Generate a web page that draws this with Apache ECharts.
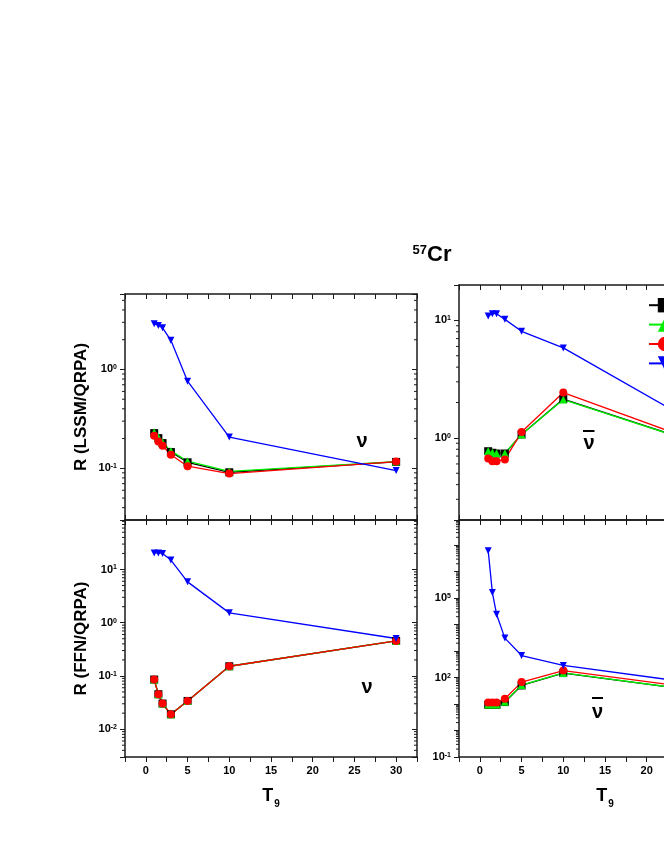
<!DOCTYPE html>
<html>
<head>
<meta charset="utf-8">
<title>57Cr rate ratios</title>
<script src="https://cdn.jsdelivr.net/npm/echarts@6.0.0/dist/echarts.min.js"></script>
<style>
  html, body { margin: 0; padding: 0; background: #fff; }
  #chart { width: 664px; height: 859px; }
</style>
</head>
<body>
<div id="chart"></div>
<script>
// temperature grid (T9)
const T9 = [1, 1.5, 2, 3, 5, 10, 30]
const seriesNames = ['\u03c1Y\u2091 = 10\u00b3', '\u03c1Y\u2091 = 10\u2077', '\u03c1Y\u2091 = 10\u2079', '\u03c1Y\u2091 = 10\u00b9\u00b9']

// R (LSSM/QRPA), neutrino
const lssmNuBlack = [0.227, 0.202, 0.180, 0.146, 0.115, 0.0912, 0.116]
const lssmNuGreen = [0.232, 0.206, 0.184, 0.150, 0.118, 0.093, 0.117]
const lssmNuRed = [0.213, 0.187, 0.169, 0.137, 0.105, 0.0885, 0.117]
const lssmNuBlue = [2.90, 2.79, 2.64, 1.97, 0.762, 0.207, 0.0948]

// R (LSSM/QRPA), antineutrino
const lssmAnuBlack = [0.77, 0.747, 0.736, 0.736, 1.07, 2.14, 0.733]
const lssmAnuGreen = [0.775, 0.75, 0.74, 0.74, 1.07, 2.12, 0.733]
const lssmAnuRed = [0.668, 0.634, 0.634, 0.655, 1.12, 2.43, 0.738]
const lssmAnuBlue = [10.9, 11.4, 11.4, 10.2, 8.07, 5.83, 0.905]

// R (FFN/QRPA), neutrino
const ffnNuBlack = [0.0855, 0.0453, 0.0303, 0.019, 0.0339, 0.152, 0.455]
const ffnNuGreen = [0.0855, 0.0453, 0.0303, 0.019, 0.0339, 0.152, 0.455]
const ffnNuRed = [0.0855, 0.0453, 0.0303, 0.019, 0.0339, 0.152, 0.455]
const ffnNuBlue = [20.5, 20.5, 20.0, 15.0, 5.85, 1.53, 0.505]

// R (FFN/QRPA), antineutrino
const ffnAnuBlack = [9.4, 9.4, 9.4, 11.9, 50.4, 148, 22]
const ffnAnuGreen = [9.6, 9.6, 9.6, 12.2, 52, 150, 22]
const ffnAnuRed = [11.5, 11.5, 11.5, 15.8, 67.6, 185, 27]
const ffnAnuBlue = [6.25e6, 1.63e5, 2.49e4, 3.1e3, 682, 287, 41]

const AXIS = '#1a1a1a'
const FONT = '"Liberation Sans", Arial, sans-serif'
const colors = ['#000000', '#00ee00', '#ff0000', '#0000ff']
const symbols = ['rect', 'triangle', 'circle', 'triangle']
const rotates = [0, 0, 0, 180]
const sizes = [8, 8, 8, 7]

// right-hand panels run past the page edge (cropped figure)
const panels = [
  { grid: { left: 125, top: 294, width: 292, height: 226 }, yMin: 0.03, yMax: 5.8, pows: [-1, 0], yName: 'R (LSSM/QRPA)', xLabels: false,
    values: [lssmNuBlack, lssmNuGreen, lssmNuRed, lssmNuBlue] },
  { grid: { left: 459, top: 285, right: -87, height: 235 }, yMin: 0.2, yMax: 20, pows: [0, 1], yName: '', xLabels: false,
    values: [lssmAnuBlack, lssmAnuGreen, lssmAnuRed, lssmAnuBlue] },
  { grid: { left: 125, top: 520, width: 292, height: 237 }, yMin: 0.003, yMax: 85, pows: [-2, -1, 0, 1], yName: 'R (FFN/QRPA)', xLabels: true,
    values: [ffnNuBlack, ffnNuGreen, ffnNuRed, ffnNuBlue] },
  { grid: { left: 459, top: 520, right: -87, height: 237 }, yMin: 0.1, yMax: 9e7, pows: [-1, 2, 5], yName: '', xLabels: true,
    values: [ffnAnuBlack, ffnAnuGreen, ffnAnuRed, ffnAnuBlue] },
]

const X_MIN = -2.5, X_MAX = 32.5

function powLabel(pows) {
  return v => {
    const l = Math.log10(v)
    const e = Math.round(l)
    if (Math.abs(l - e) > 1e-6 || !pows.includes(e)) return ''
    return '{b|10}{s|' + e + '}'
  }
}

// 2..9 x 10^n positions for the log minor ticks
function minorValues(min, max) {
  const out = []
  for (let e = Math.floor(Math.log10(min)); e <= Math.ceil(Math.log10(max)); e++) {
    for (let k = 2; k <= 9; k++) {
      const v = k * Math.pow(10, e)
      if (v > min && v < max) out.push([0, v])
    }
  }
  return out
}

const grids = [], xAxes = [], yAxes = [], series = []
const lineStyle = { color: AXIS, width: 1.5 }

panels.forEach((p, gi) => {
  grids.push({ ...p.grid, containLabel: false, outerBoundsMode: 'none' })
  const xBase = { type: 'value', gridIndex: gi, min: X_MIN, max: X_MAX, interval: 2.5, splitLine: { show: false },
    axisLine: { onZero: false, lineStyle } }
  xAxes.push({ ...xBase, position: 'bottom',
    axisTick: { inside: !p.xLabels, length: 5, lineStyle: { color: AXIS, width: 1 } },
    axisLabel: { show: p.xLabels, margin: 8, color: '#000', fontSize: 11, fontWeight: 'bold', fontFamily: FONT,
      formatter: v => (v % 5 === 0 ? String(v) : '') },
    name: p.xLabels ? '{t|T}{s|9}' : '', nameLocation: 'middle', nameGap: 30,
    nameTextStyle: { color: '#000', fontFamily: FONT, fontWeight: 'bold',
      rich: { t: { fontSize: 18, fontWeight: 'bold', fontFamily: FONT, verticalAlign: 'top' },
              s: { fontSize: 10, fontWeight: 'bold', fontFamily: FONT, verticalAlign: 'top', padding: [12, 0, 0, 1] } } } })
  xAxes.push({ ...xBase, position: 'top', axisTick: { inside: true, length: 5, lineStyle: { color: AXIS, width: 1 } },
    axisLabel: { show: false } })

  const yBase = { type: 'log', logBase: 10, gridIndex: gi, min: p.yMin, max: p.yMax, splitLine: { show: false },
    axisLine: { onZero: false, lineStyle } }
  yAxes.push({ ...yBase, position: 'left',
    axisTick: { inside: false, length: 5, lineStyle: { color: AXIS, width: 1 } },
    axisLabel: { margin: 8, color: '#000', fontSize: 11, fontWeight: 'bold', fontFamily: FONT, formatter: powLabel(p.pows),
      rich: { b: { fontSize: 11, fontWeight: 'bold', fontFamily: FONT },
              s: { fontSize: 7, fontWeight: 'bold', fontFamily: FONT, verticalAlign: 'top' } } },
    name: p.yName, nameLocation: 'middle', nameGap: 35, nameRotate: 90,
    nameTextStyle: { color: '#000', fontSize: 17, fontWeight: 'bold', fontFamily: FONT } })
  yAxes.push({ ...yBase, position: 'right', axisTick: { inside: true, length: 5, lineStyle: { color: AXIS, width: 1 } },
    axisLabel: { show: false } })

  p.values.forEach((vals, si) => {
    series.push({
      name: seriesNames[si], type: 'line', xAxisIndex: 2 * gi, yAxisIndex: 2 * gi,
      data: T9.map((t, i) => [t, vals[i]]),
      symbol: symbols[si], symbolRotate: rotates[si], symbolSize: sizes[si],
      showAllSymbol: true, clip: false,
      itemStyle: { color: colors[si] },
      lineStyle: { color: colors[si], width: 1.3 },
      emphasis: { disabled: true },
    })
  })

  series.push({
    name: 'minor' + gi, type: 'custom', xAxisIndex: 2 * gi, yAxisIndex: 2 * gi, silent: true,
    data: minorValues(p.yMin, p.yMax), encode: { x: 0, y: 1 },
    renderItem: (params, api) => {
      const v = api.value(1)
      const l = api.coord([X_MIN, v]), r = api.coord([X_MAX, v])
      return { type: 'group', children: [
        { type: 'line', shape: { x1: l[0] - 3, y1: l[1], x2: l[0], y2: l[1] }, style: { stroke: AXIS, lineWidth: 1 } },
        { type: 'line', shape: { x1: r[0] - 3, y1: r[1], x2: r[0], y2: r[1] }, style: { stroke: AXIS, lineWidth: 1 } },
      ] }
    },
  })
})

const nuFont = 'bold 20px ' + FONT
const chart = echarts.init(document.getElementById('chart'))
chart.setOption({
  animation: false,
  backgroundColor: '#fff',
  grid: grids,
  xAxis: xAxes,
  yAxis: yAxes,
  legend: {
    data: seriesNames, orient: 'vertical', left: 643, top: 293,
    itemWidth: 32, itemHeight: 18, itemGap: 5,
    textStyle: { color: '#000', fontSize: 14, fontWeight: 'bold', fontFamily: FONT },
  },
  graphic: [
    { type: 'text', x: 432, y: 255, style: { text: '{a|57}{b|Cr}', textAlign: 'center', textVerticalAlign: 'middle',
      rich: { a: { fontSize: 13, fontWeight: 'bold', fontFamily: FONT, verticalAlign: 'top' },
              b: { fontSize: 22, fontWeight: 'bold', fontFamily: FONT } } } },
    { type: 'text', x: 362, y: 441, style: { text: '\u03bd', font: nuFont, textAlign: 'center', textVerticalAlign: 'middle', fill: '#000' } },
    { type: 'text', x: 367, y: 687, style: { text: '\u03bd', font: nuFont, textAlign: 'center', textVerticalAlign: 'middle', fill: '#000' } },
    { type: 'text', x: 589, y: 443, style: { text: '\u03bd', font: nuFont, textAlign: 'center', textVerticalAlign: 'middle', fill: '#000' } },
    { type: 'line', shape: { x1: 583, y1: 431, x2: 594.5, y2: 431 }, style: { stroke: '#000', lineWidth: 2 } },
    { type: 'text', x: 597.5, y: 712, style: { text: '\u03bd', font: nuFont, textAlign: 'center', textVerticalAlign: 'middle', fill: '#000' } },
    { type: 'line', shape: { x1: 592, y1: 698, x2: 603, y2: 698 }, style: { stroke: '#000', lineWidth: 2 } },
  ],
  series,
})
</script>
</body>
</html>
